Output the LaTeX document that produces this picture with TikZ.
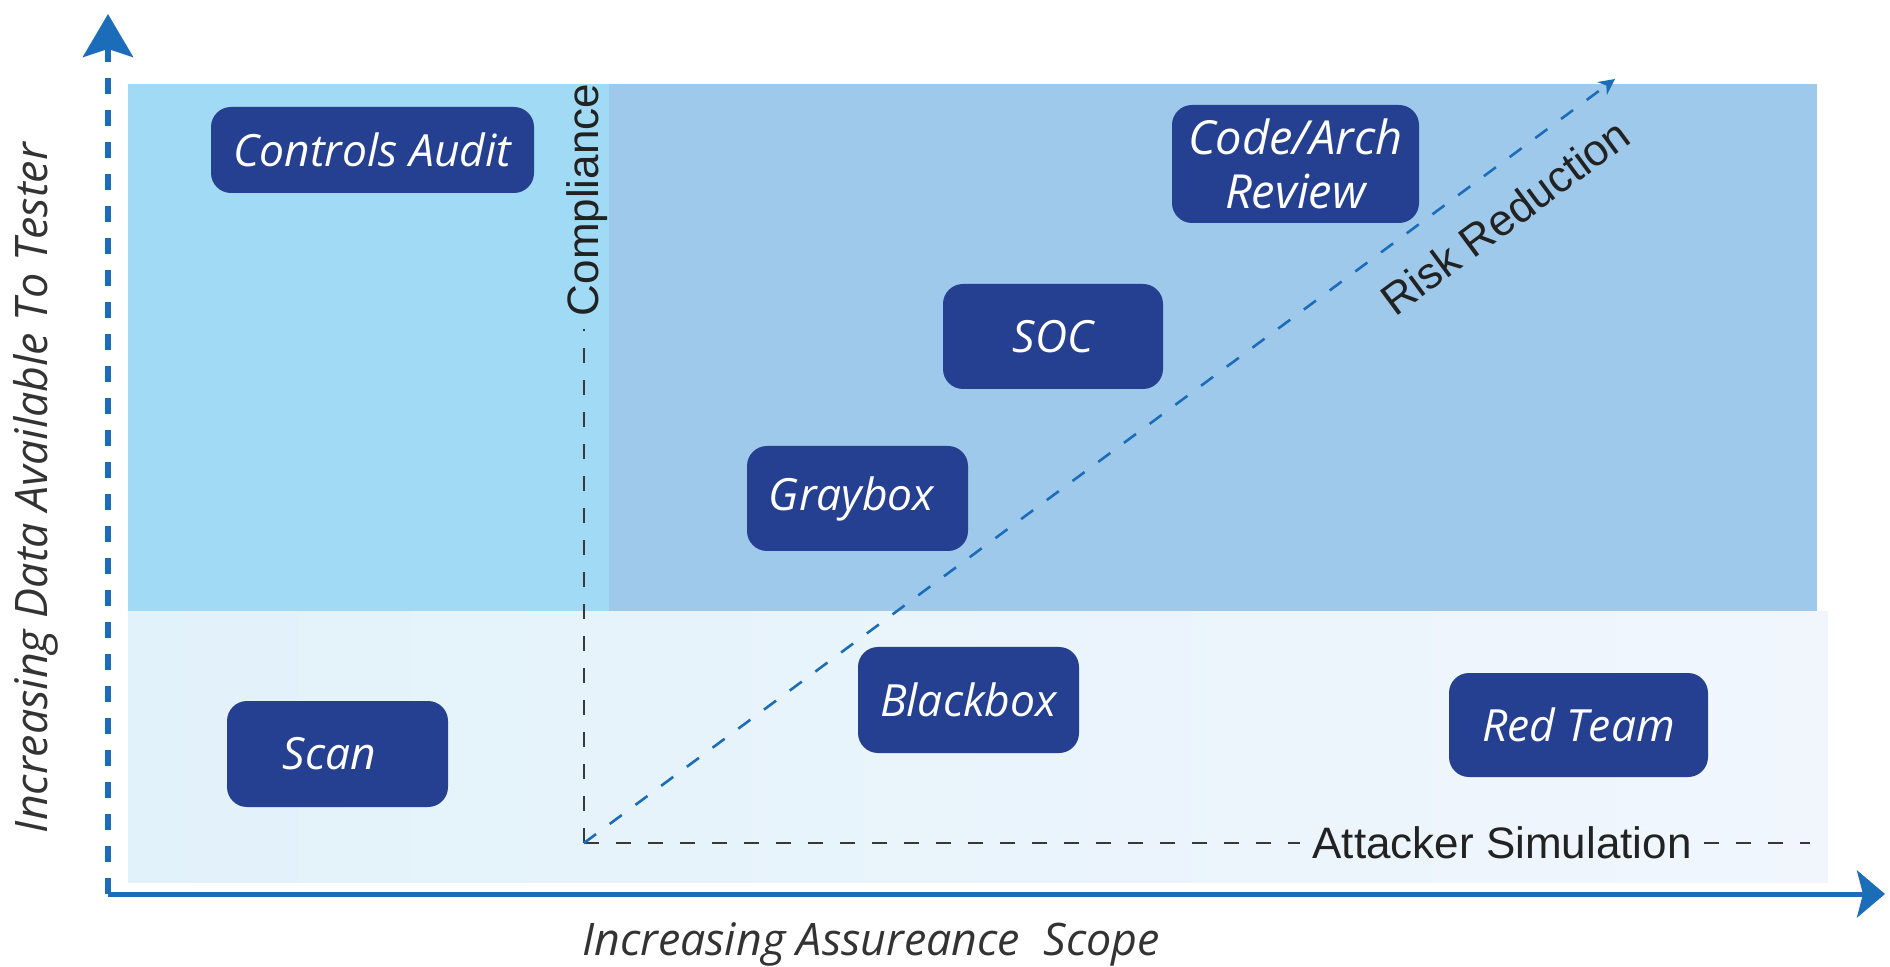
\documentclass[tikz,border=0pt]{standalone}
\usepackage{fontspec}
\setmainfont{Liberation Sans}
\newfontfamily\boxfont{Open Sans}
\usetikzlibrary{arrows.meta}
\definecolor{bandA}{HTML}{A0DAF4}
\definecolor{bandB}{HTML}{9FC9EA}
\definecolor{bandL}{HTML}{E2F2FA}
\definecolor{bandR}{HTML}{F1F6FD}
\definecolor{boxblue}{HTML}{253F91}
\definecolor{axisblue}{HTML}{1B6DB9}
\definecolor{ink}{HTML}{222222}
\definecolor{axink}{HTML}{333333}
\begin{document}
\begin{tikzpicture}[x=0.5pt,y=-0.5pt,
  tbox/.style={fill=boxblue, rounded corners=10pt, text=white, align=center,
    inner sep=0pt, font=\boxfont\itshape\fontsize{22.2}{27}\selectfont},
  lbl/.style={text=ink, inner sep=0pt, font=\fontsize{22}{26}\selectfont},
  axlbl/.style={text=axink, inner sep=0pt, font=\boxfont\itshape\fontsize{22.4}{26}\selectfont},
  blackdash/.style={draw=ink!90, line width=1.4pt, dash pattern=on 7.5pt off 8.5pt},
  bluedash/.style={draw=axisblue, line width=1.3pt, dash pattern=on 7.5pt off 8.5pt}]
\useasboundingbox (0,0) rectangle (1890,967);
% bands
\fill[bandA] (128,84) rectangle (609,612);
\fill[bandB] (609,84) rectangle (1817,612);
\shade[left color=bandL, right color=bandR] (128,612) rectangle (1828,882);
% axes
\coordinate (O) at (108,894);
\coordinate (ytip) at (108,14);
\coordinate (xtip) at (1885,894);
\draw[axisblue, line width=2.5pt, -{Stealth[length=14pt,width=23.5pt,inset=3pt]}] (O) -- (xtip);
\draw[axisblue, line width=3pt, dash pattern=on 8pt off 8pt, -{Stealth[length=21.5pt,width=25pt,inset=4pt]}] (O) -- (ytip);
% axis labels
\node[axlbl, rotate=90] (ylab) at (36,488) {Increasing Data Available To Tester};
\node[axlbl] (xlab) at (871,944) {Increasing Assureance\ \ Scope};
% compliance / attacker / risk
\coordinate (c0) at (584,843);
\node[lbl, rotate=90] (comp) at (587,200) {Compliance};
\node[lbl] (att) at (1502,843) {Attacker Simulation};
\coordinate (aend) at (1810,843);
\coordinate (rtip) at (1615,79);
\draw[blackdash, shorten >=6pt] (c0) -- (c0 |- comp.west);
\draw[blackdash, shorten >=6pt] (c0) -- (att.west);
\draw[blackdash, shorten <=6pt] (att.east) -- (aend);
\draw[bluedash, -{Stealth[length=8pt,width=8pt]}] (c0) -- (rtip);
\node[lbl, rotate=36.5] (risk) at (1505,217) {Risk Reduction};
% boxes
\node[tbox, minimum width=161.5pt, minimum height=43pt] (ca) at (372.5,150) {Controls Audit};
\node[tbox, minimum width=123.5pt, minimum height=59pt, font=\boxfont\itshape\fontsize{23.5}{27}\selectfont] (code) at (1295.5,164) {Code/Arch\\Review};
\node[tbox, minimum width=110pt, minimum height=52.5pt] (soc) at (1053,336.5) {SOC};
\node[tbox, minimum width=110.5pt, minimum height=52.5pt] (gray) at (857.5,498.5) {Graybox\hspace*{6pt}};
\node[tbox, minimum width=110.5pt, minimum height=53pt] (black) at (968.5,700) {Blackbox};
\node[tbox, minimum width=110.5pt, minimum height=53pt] (scan) at (337.5,754) {Scan\hspace*{8pt}};
\node[tbox, minimum width=129.5pt, minimum height=52pt] (red) at (1578.5,725) {Red Team};
\end{tikzpicture}
\end{document}
